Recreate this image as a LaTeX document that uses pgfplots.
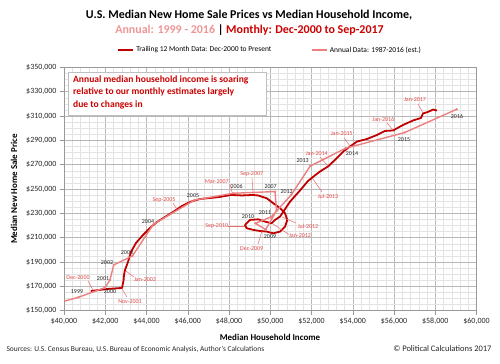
\documentclass[border=0pt]{standalone}
\usepackage{pgfplots}
\usepackage{pgfplotstable}
\pgfplotsset{compat=1.18}
\usepackage{fontspec}
\setmainfont{Carlito}
\definecolor{darkred}{RGB}{192,0,0}
\definecolor{annual}{RGB}{236,128,128}
\definecolor{monlab}{RGB}{226,70,70}
\definecolor{titlepink}{RGB}{238,150,150}
\definecolor{titlered}{RGB}{204,0,0}

\pgfplotsset{
  monoleg/.style={legend image code/.code={\draw[##1] (0bp,0bp) -- (15bp,0bp);}},
  annleg/.style={legend image code/.code={\draw[mark repeat=2, mark phase=2, ##1] plot coordinates {(0bp,0bp) (7.5bp,0bp) (15bp,0bp)};}},
}

\pgfplotstableread{
x y
38885 152500
40696 161000
41990 169000
42228 175200
42409 187600
43318 195000
44334 221000
46326 240900
48201 246500
50233 247900
50303 232100
49777 216700
49276 221800
50054 227200
51017 245200
51939 268900
53657 283500
56516 296400
59039 315500
}\annualdata

\pgfplotstableread{
x y
41300 166200
41745 167100
42133 167900
42473 168300
42812 168700
42885 174500
42909 179400
42958 183500
43103 190100
43248 198300
43491 205700
43830 212200
44170 218000
44509 222900
44897 227000
45285 231100
45721 236100
46109 239400
46594 241800
47079 242600
47564 243500
48097 245100
48630 244700
49164 245100
49406 244700
49828 242400
50148 238300
50473 234200
50715 230100
50826 224600
50715 219100
50473 215000
50148 213600
49828 215000
49503 215500
49178 216400
48857 217800
48776 220500
49018 224600
49421 225100
49745 223200
50070 221900
50230 224600
50473 227300
50635 231400
50958 239600
51442 248800
51830 256600
52072 259900
52412 264400
52800 268500
53236 275500
53576 281300
53867 284900
54206 289000
54691 291100
55176 294400
55564 297700
55952 298100
56436 302600
56921 306300
57309 308400
57406 312100
57648 313300
57891 315300
58085 314500
}\monthlydata

\newcommand\pp[2]{(rel axis cs:{(#1-64)/412.5},{(310.7-#2)/243.4})}
\newcommand\ylab[3]{\path \pp{#1}{#2} node[font=\fontsize{6}{7}\selectfont, text=black!85, inner sep=0pt] {#3};}
\newcommand\mlab[7]{\path \pp{#1}{#2} node[font=\fontsize{6}{7}\selectfont, text=monlab, inner sep=0pt] {#3};
  \draw[monlab!80, line width=0.5bp] \pp{#4}{#5} -- \pp{#6}{#7};}

\begin{document}
\begin{tikzpicture}[x=1bp,y=1bp]
\useasboundingbox (0,0) rectangle (500,363);
\begin{axis}[
  at={(64bp,52.3bp)}, anchor=south west,
  scale only axis, width=412.5bp, height=243.4bp,
  xmin=40000, xmax=60000, ymin=150000, ymax=350000,
  xtick={40000,42000,44000,46000,48000,50000,52000,54000,56000,58000,60000},
  ytick={150000,170000,190000,210000,230000,250000,270000,290000,310000,330000,350000},
  minor x tick num=4, minor y tick num=3,
  grid=both,
  major grid style={draw=black!28, line width=0.5bp},
  minor grid style={draw=black!11, line width=0.4bp},
  axis line style={draw=black!40, line width=0.5bp},
  tick pos=left, tick align=outside,
  major tick length=4bp, minor tick length=0bp,
  tick style={draw=black!40, line width=0.5bp},
  scaled ticks=false,
  /pgf/number format/assume math mode=true,
  /pgf/number format/.cd, fixed, precision=0, 1000 sep={,}, /pgfplots/.cd,
  xticklabel={\$\pgfmathprintnumber{\tick}},
  yticklabel={\$\pgfmathprintnumber{\tick}},
  ticklabel style={font=\fontsize{8}{9}\selectfont, text=black!85},
  legend columns=2,
  legend style={at={(0.5,1.071)}, anchor=center, draw=none, fill=none,
    font=\fontsize{7.5}{9}\selectfont, inner sep=0pt,
    /tikz/every even column/.append style={column sep=38bp}},
  legend cell align=left,
]
\addplot[darkred, line width=1.8bp, line join=round, monoleg]
  table[x=x,y=y] {\monthlydata};
\addlegendentry{Trailing 12 Month Data: Dec-2000 to Present}
\addplot[annual, line width=1.4bp, line join=round, mark=o, mark size=1bp,
  mark options={fill=white, line width=0.5bp}, annleg]
  table[x=x,y=y] {\annualdata};
\addlegendentry{Annual Data: 1987-2016 (est.)}

% annotation box
\draw[black!25, fill=white, line width=0.6bp] \pp{68.3}{72.7} rectangle \pp{266.7}{115};
\path \pp{73}{75.5} node[anchor=north west, inner sep=0pt, align=left, text=titlered,
  font=\bfseries\fontsize{9.6}{12.4}\selectfont]
  {Annual median household income is soaring\\relative to our monthly estimates largely\\due to changes in};

% year labels
\ylab{77}{292}{1999}
\ylab{110}{292}{2000}
\ylab{103}{279}{2001}
\ylab{107}{263}{2002}
\ylab{127}{253}{2003}
\ylab{148}{221.5}{2004}
\ylab{193}{196}{2005}
\ylab{236.7}{186.7}{2006}
\ylab{270.7}{187}{2007}
\ylab{286.7}{192}{2012}
\ylab{302.7}{160.7}{2013}
\ylab{352}{153.7}{2014}
\ylab{404}{140}{2015}
\ylab{457}{117}{2016}
\ylab{248}{217}{2010}
\ylab{265}{213}{2011}
\ylab{270}{236.7}{2009}

% month labels
\mlab{78}{277.7}{Dec-2000}{88}{281}{93}{290}
\mlab{130}{302}{Nov-2001}{127}{297}{122}{289}
\mlab{145}{280}{Jan-2003}{134}{277}{126}{271}
\mlab{164}{200}{Sep-2005}{173}{203}{178}{211}
\mlab{216.7}{181.7}{Mar-2007}{230}{184}{232.5}{194}
\mlab{251.7}{174}{Sep-2007}{252}{178}{253}{194}
\mlab{216.7}{226.5}{Sep-2010}{228}{226.5}{245}{226.5}
\mlab{251.7}{248.3}{Dec-2009}{258}{244}{262}{231}
\mlab{300}{235.7}{Jan-2012}{289}{234.5}{273}{224}
\mlab{308}{226}{Jul-2012}{296}{223}{282}{217}
\mlab{328}{196}{Jul-2013}{322}{192}{313}{179}
\mlab{316.7}{154}{Jan-2014}{320}{157}{328}{166}
\mlab{341.7}{134}{Jan-2015}{344}{138}{350}{146}
\mlab{383.3}{119.3}{Jan-2016}{387}{123}{393}{130}
\mlab{415}{100}{Jan-2017}{418}{104}{423}{113}
\end{axis}

% titles and texts
\node[font=\bfseries\fontsize{12}{14}\selectfont] at (249,348) {U.S. Median New Home Sale Prices vs Median Household Income,};
\node[font=\bfseries\fontsize{12}{14}\selectfont] at (249.5,333)
  {\textcolor{titlepink}{Annual: 1999 - 2016} | \textcolor{titlered}{Monthly: Dec-2000 to Sep-2017}};
\node[font=\bfseries\fontsize{9}{11}\selectfont] at (270,26) {Median Household Income};
\node[font=\bfseries\fontsize{9}{11}\selectfont, rotate=90] at (14,174) {Median New Home Sale Price};
\node[anchor=west, font=\fontsize{7.5}{9}\selectfont, text=black!85] at (3,14)
  {Sources: U.S. Census Bureau, U.S. Bureau of Economic Analysis, Author's Calculations};
\node[anchor=east, font=\fontsize{8.5}{10}\selectfont, text=black!85] at (495,14)
  {© Political Calculations 2017};
\end{tikzpicture}
\end{document}
